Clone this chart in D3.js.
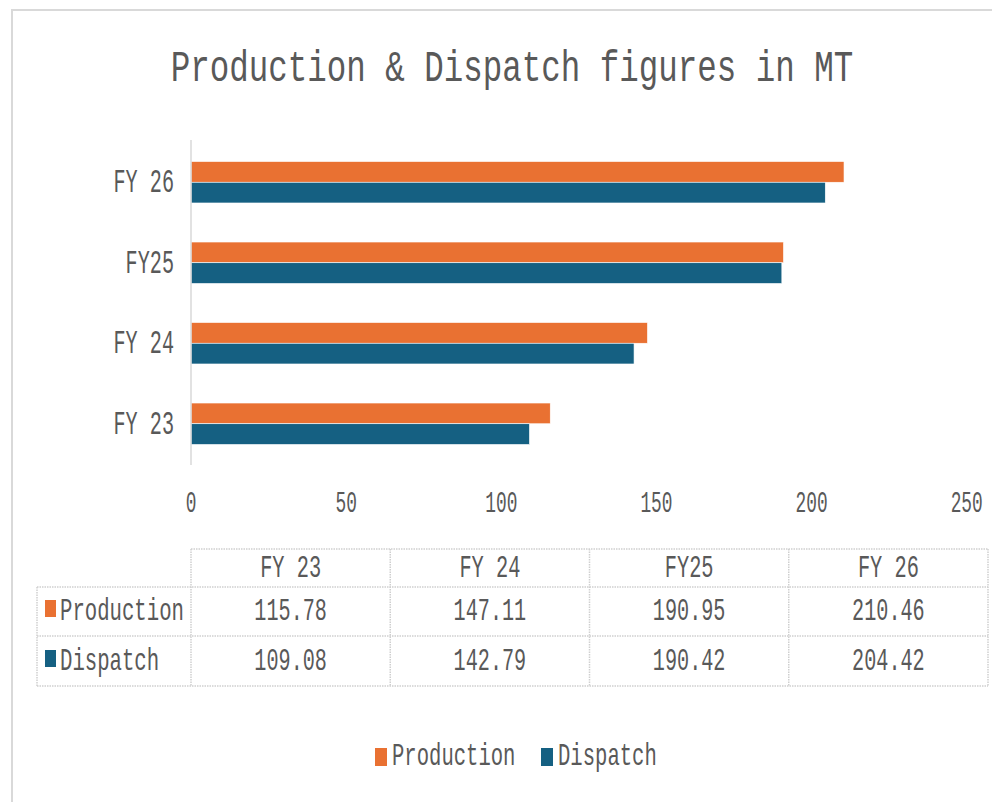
<!DOCTYPE html>
<html>
<head>
<meta charset="utf-8">
<script src="https://cdn.jsdelivr.net/npm/d3@7"></script>
<style>
  html, body { margin: 0; padding: 0; background: #fff; }
  #chart { width: 992px; height: 802px; }
</style>
</head>
<body>
<div id="chart"></div>
<script>
// ── 資料 ─────────────────────────────────────────────
const categories = ["FY 23", "FY 24", "FY25", "FY 26"];
const production = [115.78, 147.11, 190.95, 210.46];
const dispatch   = [109.08, 142.79, 190.42, 204.42];
const seriesNames = ["Production", "Dispatch"];
const xTicks = [0, 50, 100, 150, 200, 250];
const titleText = "Production & Dispatch figures in MT";

const COLORS = { Production: "#E97132", Dispatch: "#156082" };
const TEXT   = "#595959";
const FONT   = "'Courier New', 'Liberation Mono', monospace";
const ADV    = 0.6;   // 等寬字的字寬 / em
const W = 992, H = 802;

const svg = d3.select("#chart").append("svg")
  .attr("width", W).attr("height", H)
  .style("font-family", FONT);

// 壓扁的等寬字：高度靠 font-size，寬度靠水平 scale
function label(g, txt, x, y, size, charW, anchor = "middle") {
  const sx = charW / (ADV * size);
  return g.append("text")
    .attr("transform", `translate(${x},${y}) scale(${sx.toFixed(4)},1)`)
    .attr("font-size", size)
    .attr("fill", TEXT)
    .attr("text-anchor", anchor)
    .text(txt);
}

// ── 外框 ──
svg.append("path")
  .attr("d", `M12,${H} L12,10 L${W},10`)
  .attr("fill", "none").attr("stroke", "#d9d9d9").attr("stroke-width", 2);

// ── 標題 ──
label(svg, titleText, 512, 81, 45, 19.5);

// ── 比例尺 ──
const x = d3.scaleLinear().domain([0, 250]).range([191, 966.7]);
const y = d3.scaleBand().domain(categories.slice().reverse())
  .range([142, 464]).paddingInner(0.485).paddingOuter(0.2425);
const ySub = d3.scaleBand().domain(seriesNames).range([0, y.bandwidth()]);

const rows = categories.map((c, i) => ({ cat: c, Production: production[i], Dispatch: dispatch[i] }));

// ── 長條 ──
const barG = svg.append("g");
rows.forEach(r => {
  seriesNames.forEach(s => {
    barG.append("rect")
      .attr("x", x(0))
      .attr("y", y(r.cat) + ySub(s))
      .attr("width", x(r[s]) - x(0))
      .attr("height", ySub.bandwidth())
      .attr("fill", COLORS[s])
      .attr("stroke", "#fff").attr("stroke-width", 0.6);
  });
});

// ── 垂直軸線 ──
svg.append("line")
  .attr("x1", x(0)).attr("x2", x(0))
  .attr("y1", 140).attr("y2", 465)
  .attr("stroke", "#d9d9d9").attr("stroke-width", 1.5);

// ── 類別標籤 ──
const catG = svg.append("g");
categories.forEach(c => {
  label(catG, c, 174, y(c) + y.bandwidth() / 2 + 10, 33, 12.1, "end");
});

// ── X 軸刻度 ──
const tickG = svg.append("g");
xTicks.forEach(t => label(tickG, String(t), x(t), 512, 30, 10.7));

// ── 資料表 ──
const tbl = svg.append("g");
const colX = d3.range(5).map(i => 191 + i * (988 - 191) / 4);
const rowY = [549, 587, 636, 686];
const lineStyle = sel => sel.attr("stroke", "#cfcfcf").attr("stroke-width", 1.5)
  .attr("stroke-dasharray", "1.5,1");

// 水平線
lineStyle(tbl.append("line").attr("x1", colX[0]).attr("x2", colX[4]).attr("y1", rowY[0]).attr("y2", rowY[0]));
[1, 2, 3].forEach(k => {
  lineStyle(tbl.append("line").attr("x1", 37).attr("x2", colX[4]).attr("y1", rowY[k]).attr("y2", rowY[k]));
});
// 垂直線
lineStyle(tbl.append("line").attr("x1", 37).attr("x2", 37).attr("y1", rowY[1]).attr("y2", rowY[3]));
colX.forEach(cx => {
  lineStyle(tbl.append("line").attr("x1", cx).attr("x2", cx).attr("y1", rowY[0]).attr("y2", rowY[3]));
});

// 表頭
categories.forEach((c, i) => label(tbl, c, (colX[i] + colX[i + 1]) / 2, 577, 32, 12.2));

// 表身
const bodyBase = [620, 670];
seriesNames.forEach((s, j) => {
  const vals = s === "Production" ? production : dispatch;
  tbl.append("rect")
    .attr("x", 45).attr("y", bodyBase[j] - 20)
    .attr("width", 11).attr("height", 17)
    .attr("fill", COLORS[s]);
  label(tbl, s, 60, bodyBase[j], 32, 12.4, "start");
  vals.forEach((v, i) => {
    label(tbl, v.toFixed(2), (colX[i] + colX[i + 1]) / 2, bodyBase[j], 32, 12.1);
  });
});

// ── 圖例 ──
const leg = svg.append("g");
const legItems = [{ name: "Production", kx: 375 }, { name: "Dispatch", kx: 541 }];
legItems.forEach(it => {
  leg.append("rect")
    .attr("x", it.kx).attr("y", 748)
    .attr("width", 12).attr("height", 18)
    .attr("fill", COLORS[it.name]);
  label(leg, it.name, it.kx + 17, 765, 32, 12.35, "start");
});
</script>
</body>
</html>
